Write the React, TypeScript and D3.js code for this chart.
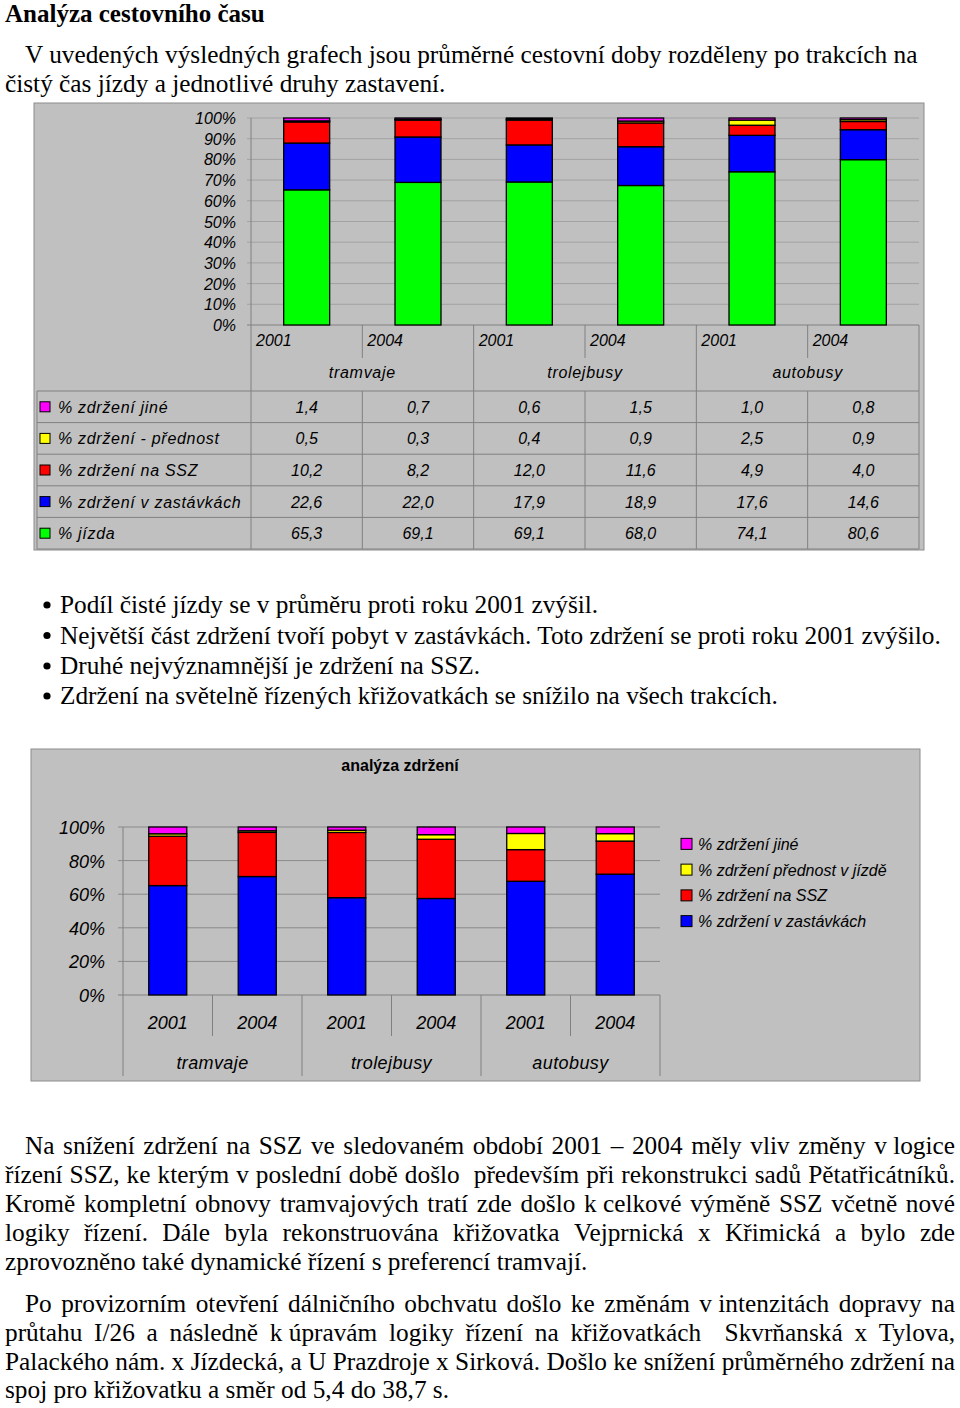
import React from 'react';
import * as d3 from 'd3';

// ---------- data ----------
const categories = ['tramvaje', 'trolejbusy', 'autobusy'];
const years = ['2001', '2004'];
const jizda = [65.3, 69.1, 69.1, 68.0, 74.1, 80.6];
const zdrzeniZastavky = [22.6, 22.0, 17.9, 18.9, 17.6, 14.6];
const zdrzeniSSZ = [10.2, 8.2, 12.0, 11.6, 4.9, 4.0];
const zdrzeniPrednost = [0.5, 0.3, 0.4, 0.9, 2.5, 0.9];
const zdrzeniJine = [1.4, 0.7, 0.6, 1.5, 1.0, 0.8];

const topKeys = ['jizda', 'zastavky', 'ssz', 'prednost', 'jine'];
const tableKeys = ['jine', 'prednost', 'ssz', 'zastavky', 'jizda'];
const topLabels: Record<string, string> = {
  jine: '% zdržení jiné',
  prednost: '% zdržení - přednost',
  ssz: '% zdržení na SSZ',
  zastavky: '% zdržení v zastávkách',
  jizda: '% jízda',
};
const delayKeys = ['zastavky', 'ssz', 'prednost', 'jine'];
const delayLegendKeys = ['jine', 'prednost', 'ssz', 'zastavky'];
const delayLabels: Record<string, string> = {
  jine: '% zdržení jiné',
  prednost: '% zdržení přednost v jízdě',
  ssz: '% zdržení na SSZ',
  zastavky: '% zdržení v zastávkách',
};
const delayTitle = 'analýza zdržení';

const heading = 'Analýza cestovního času';
const introLines = [
  'V uvedených výsledných grafech jsou průměrné cestovní doby rozděleny po trakcích na',
  'čistý čas jízdy a jednotlivé druhy zastavení.',
];
const bulletLines = [
  'Podíl čisté jízdy se v průměru proti roku 2001 zvýšil.',
  'Největší část zdržení tvoří pobyt v zastávkách. Toto zdržení se proti roku 2001 zvýšilo.',
  'Druhé nejvýznamnější je zdržení na SSZ.',
  'Zdržení na světelně řízených křižovatkách se snížilo na všech trakcích.',
];
const para1Lines = [
  'Na snížení zdržení na SSZ ve sledovaném období 2001 – 2004 měly vliv změny v\u00A0logice',
  'řízení SSZ, ke kterým v poslední době došlo  především při rekonstrukci sadů Pětatřicátníků.',
  'Kromě kompletní obnovy tramvajových tratí zde došlo k\u00A0celkové výměně SSZ včetně nové',
  'logiky řízení. Dále byla rekonstruována křižovatka Vejprnická x Křimická a bylo zde',
  'zprovozněno také dynamické řízení s preferencí tramvají.',
];
const para2Lines = [
  'Po provizorním otevření dálničního obchvatu došlo ke změnám v\u00A0intenzitách dopravy na',
  'průtahu I/26 a následně k\u00A0úpravám logiky řízení na křižovatkách  Skvrňanská x Tylova,',
  'Palackého nám. x Jízdecká, a U Prazdroje x Sirková. Došlo ke snížení průměrného zdržení na',
  'spoj pro křižovatku a směr od 5,4 do 38,7 s.',
];

// ---------- styles ----------
const colors: Record<string, string> = {
  jizda: '#00ff00',
  zastavky: '#0000ff',
  ssz: '#ff0000',
  prednost: '#ffff00',
  jine: '#ff00ff',
};
const SERIF = "'Liberation Serif', 'Times New Roman', serif";
const SANS = "'Liberation Sans', Arial, sans-serif";
const BG = '#c0c0c0';
const BODY_SIZE = 25.3;

const seriesValues: Record<string, number[]> = {
  jizda,
  zastavky: zdrzeniZastavky,
  ssz: zdrzeniSSZ,
  prednost: zdrzeniPrednost,
  jine: zdrzeniJine,
};
const columns = categories.flatMap((c) => years.map((y) => ({ cat: c, year: y })));
const rows = columns.map((_, i) => {
  const r: Record<string, number> = {};
  Object.keys(seriesValues).forEach((k) => (r[k] = seriesValues[k][i]));
  return r;
});
const fmt = (v: number) => d3.format('.1f')(v).replace('.', ',');

let measureCtx: CanvasRenderingContext2D | null = null;
function measure(text: string, font: string) {
  if (!measureCtx) measureCtx = document.createElement('canvas').getContext('2d');
  measureCtx!.font = font;
  return measureCtx!.measureText(text).width;
}

function Line({ text, x0, x1, y, justify }: { text: string; x0: number; x1: number; y: number; justify: boolean }) {
  if (!justify) return <text x={x0} y={y}>{text}</text>;
  const parts = text.split(' ');
  const font = `${BODY_SIZE}px ${SERIF}`;
  const widths = parts.map((p) => measure(p, font));
  const gap = (x1 - x0 - d3.sum(widths)) / (parts.length - 1);
  let x = x0;
  return (
    <text y={y}>
      {parts.map((p, i) => {
        const el = (
          <tspan key={i} x={x}>
            {p}
          </tspan>
        );
        x += widths[i] + gap;
        return el;
      })}
    </text>
  );
}

function TopChart() {
  const L = 251, R = 919, Y0 = 325, Y1 = 118;
  const y = d3.scaleLinear().domain([0, 1]).range([Y0, Y1]);
  const idx = d3.range(columns.length);
  const xBar = d3.scaleBand<number>().domain(idx).range([L, R]).paddingInner(0.587).paddingOuter(0.2935);
  const xCol = d3.scaleBand<number>().domain(idx).range([L, R]);
  const xGroup = d3.scaleBand<string>().domain(categories).range([L, R]);
  const stack = d3.stack<Record<string, number>>().keys(topKeys).offset(d3.stackOffsetExpand)(rows);
  const rowScale = d3.scaleBand<string>().domain(tableKeys).range([391, 549]);
  const ticks = y.ticks(10);
  const lineC = '#808080';
  return (
    <g fontFamily={SANS} fontStyle="italic" fontSize={16}>
      <rect x={34} y={103} width={890} height={447} fill={BG} stroke="#8c8c8c" strokeWidth={1} />
      {ticks.map((t) => (
        <g key={t}>
          <line x1={L - 4} x2={R} y1={y(t)} y2={y(t)} stroke={t === 0 ? lineC : '#a2a2a2'} strokeWidth={1} />
          <text x={236} y={y(t) + 6} textAnchor="end">
            {d3.format('.0%')(t)}
          </text>
        </g>
      ))}
      <line x1={L} x2={L} y1={Y1} y2={549} stroke={lineC} />
      {stack.map((s) => (
        <g key={s.key}>
          {s.map((d, i) => (
            <rect
              key={i}
              x={xBar(i)}
              width={xBar.bandwidth()}
              y={y(d[1])}
              height={y(d[0]) - y(d[1])}
              fill={colors[s.key]}
              stroke="#000"
              strokeWidth={1.3}
            />
          ))}
        </g>
      ))}
      {/* header */}
      {idx.map((i) => (
        <g key={i}>
          <text x={xCol(i)! + 5} y={346}>
            {columns[i].year}
          </text>
          {i % 2 === 1 && <line x1={xCol(i)} x2={xCol(i)} y1={Y0} y2={358} stroke={lineC} />}
          {i % 2 === 1 && <line x1={xCol(i)} x2={xCol(i)} y1={391} y2={549} stroke={lineC} />}
        </g>
      ))}
      {categories.map((c) => (
        <g key={c}>
          <text x={xGroup(c)! + xGroup.bandwidth() / 2} y={378} textAnchor="middle" letterSpacing={0.7}>
            {c}
          </text>
          <line x1={xGroup(c)! + xGroup.bandwidth()} x2={xGroup(c)! + xGroup.bandwidth()} y1={Y0} y2={549} stroke={lineC} />
        </g>
      ))}
      {/* table */}
      <line x1={37} x2={37} y1={391} y2={549} stroke={lineC} />
      <line x1={37} x2={R} y1={391} y2={391} stroke={lineC} />
      {tableKeys.map((k) => {
        const top = rowScale(k)!;
        const cy = top + rowScale.bandwidth() / 2;
        return (
          <g key={k}>
            <line x1={37} x2={R} y1={top + rowScale.bandwidth()} y2={top + rowScale.bandwidth()} stroke={lineC} />
            <rect x={40} y={cy - 5} width={10} height={10} fill={colors[k]} stroke="#000" strokeWidth={1} />
            <text x={58} y={cy + 6} letterSpacing={0.7}>
              {topLabels[k]}
            </text>
            {seriesValues[k].map((v, i) => (
              <text key={i} x={xCol(i)! + xCol.bandwidth() / 2} y={cy + 6} textAnchor="middle">
                {fmt(v)}
              </text>
            ))}
          </g>
        );
      })}
    </g>
  );
}

function DelayChart() {
  const L = 123, R = 660, Y0 = 995, Y1 = 827;
  const y = d3.scaleLinear().domain([0, 1]).range([Y0, Y1]);
  const idx = d3.range(columns.length);
  const xBar = d3.scaleBand<number>().domain(idx).range([L, R]).paddingInner(0.575).paddingOuter(0.2875);
  const xCol = d3.scaleBand<number>().domain(idx).range([L, R]);
  const xGroup = d3.scaleBand<string>().domain(categories).range([L, R]);
  const stack = d3.stack<Record<string, number>>().keys(delayKeys).offset(d3.stackOffsetExpand)(rows);
  const ticks = y.ticks(5);
  const legendY = d3.scaleBand<string>().domain(delayLegendKeys).range([831, 934]);
  const lineC = '#808080';
  return (
    <g fontFamily={SANS} fontStyle="italic">
      <rect x={31} y={749} width={889} height={332} fill={BG} stroke="#8c8c8c" strokeWidth={1} />
      <text x={400} y={771} textAnchor="middle" fontWeight="bold" fontStyle="normal" fontSize={16}>
        {delayTitle}
      </text>
      {ticks.map((t) => (
        <g key={t}>
          <line x1={L - 5} x2={R} y1={y(t)} y2={y(t)} stroke={t === 0 ? lineC : '#8a8a8a'} strokeWidth={1} />
          <text x={105} y={y(t) + 7} textAnchor="end" fontSize={18}>
            {d3.format('.0%')(t)}
          </text>
        </g>
      ))}
      <line x1={L} x2={L} y1={Y1} y2={1076} stroke={lineC} />
      {stack.map((s) => (
        <g key={s.key}>
          {s.map((d, i) => (
            <rect
              key={i}
              x={xBar(i)}
              width={xBar.bandwidth()}
              y={y(d[1])}
              height={y(d[0]) - y(d[1])}
              fill={colors[s.key]}
              stroke="#000"
              strokeWidth={1.3}
            />
          ))}
        </g>
      ))}
      {idx.map((i) => (
        <g key={i}>
          <text x={xCol(i)! + xCol.bandwidth() / 2} y={1029} textAnchor="middle" fontSize={18}>
            {columns[i].year}
          </text>
          {i % 2 === 1 && <line x1={xCol(i)} x2={xCol(i)} y1={Y0} y2={1036} stroke={lineC} />}
        </g>
      ))}
      {categories.map((c) => (
        <g key={c}>
          <text x={xGroup(c)! + xGroup.bandwidth() / 2} y={1069} textAnchor="middle" fontSize={18} letterSpacing={0.4}>
            {c}
          </text>
          <line x1={xGroup(c)! + xGroup.bandwidth()} x2={xGroup(c)! + xGroup.bandwidth()} y1={Y0} y2={1076} stroke={lineC} />
        </g>
      ))}
      {delayLegendKeys.map((k) => {
        const cy = legendY(k)! + legendY.bandwidth() / 2;
        return (
          <g key={k}>
            <rect x={681} y={cy - 5.5} width={11} height={11} fill={colors[k]} stroke="#000" strokeWidth={1} />
            <text x={698} y={cy + 6} fontSize={16}>
              {delayLabels[k]}
            </text>
          </g>
        );
      })}
    </g>
  );
}

export default function App() {
  const LEFT = 5, RIGHT = 955, INDENT = 25;
  const introY = [63, 92];
  const bulletY = [613, 643.5, 674, 704];
  const p1Y = [1154, 1183, 1212, 1241, 1270];
  const p2Y = [1312, 1341, 1370, 1398];
  return (
    <svg
      width={960}
      height={1408}
      style={{ position: 'absolute', left: 0, top: 0, background: '#fff' }}
      xmlns="http://www.w3.org/2000/svg"
    >
      <rect width={960} height={1408} fill="#fff" />
      <g fontFamily={SERIF} fontSize={BODY_SIZE} fill="#000">
        <text x={LEFT} y={22} fontWeight="bold" fontSize={25}>
          {heading}
        </text>
        {introLines.map((l, i) => (
          <Line key={i} text={l} x0={i === 0 ? INDENT : LEFT} x1={RIGHT} y={introY[i]} justify={false} />
        ))}
        {bulletLines.map((l, i) => (
          <g key={i}>
            <circle cx={47} cy={bulletY[i] - 8} r={3.6} fill="#000" />
            <text x={60} y={bulletY[i]}>
              {l}
            </text>
          </g>
        ))}
        {para1Lines.map((l, i) => (
          <Line key={i} text={l} x0={i === 0 ? INDENT : LEFT} x1={RIGHT} y={p1Y[i]} justify={i < para1Lines.length - 1} />
        ))}
        {para2Lines.map((l, i) => (
          <Line key={i} text={l} x0={i === 0 ? INDENT : LEFT} x1={RIGHT} y={p2Y[i]} justify={i < para2Lines.length - 1} />
        ))}
      </g>
      <TopChart />
      <DelayChart />
    </svg>
  );
}
